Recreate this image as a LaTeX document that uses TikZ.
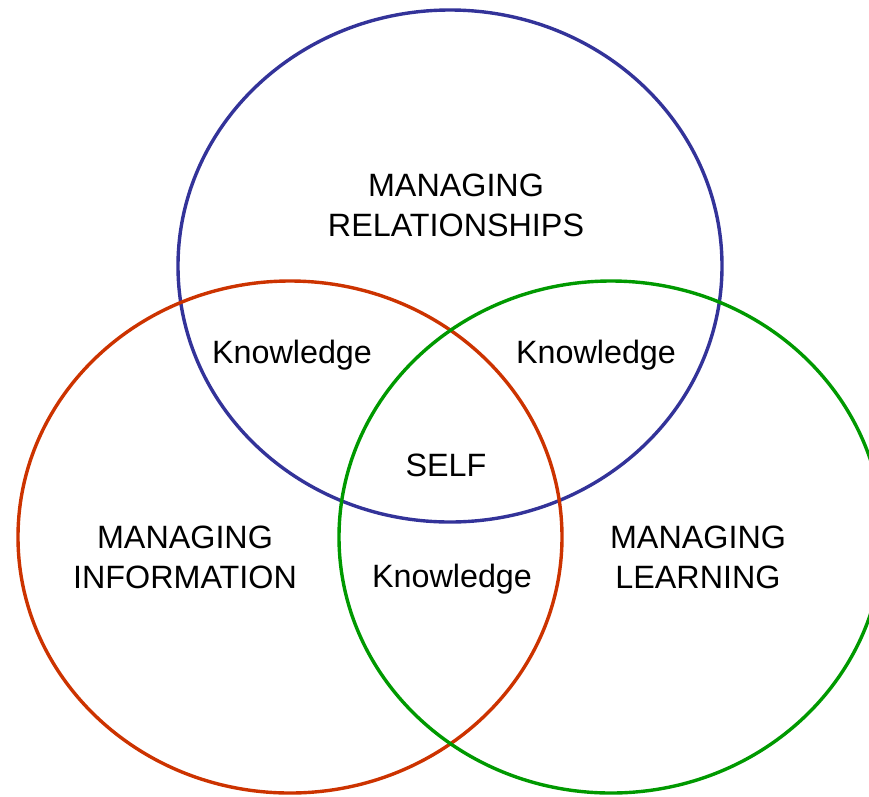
\documentclass[tikz,border=0pt]{standalone}
\usepackage{fontspec}
\setmainfont{Liberation Sans}
\usetikzlibrary{positioning}
\usetikzlibrary{shapes.geometric}
\definecolor{relblue}{RGB}{51,51,153}
\definecolor{infred}{RGB}{204,51,0}
\definecolor{learngreen}{RGB}{0,153,0}
\tikzset{
set/.style={
  ellipse,
  inner sep=0pt,
  minimum width=544pt,
  minimum height=512pt,
  line width=3.4pt
  },
lbl/.style={
  align=center,
  inner sep=0pt,
  font=\fontsize{32.3}{40}\selectfont
  }
}

\begin{document}
\begin{tikzpicture}[x=1pt,y=-1pt]
            \useasboundingbox (0,0) rectangle (869,796);
            \node[set,draw=relblue] (rel) at (450,266) {};
            \node[set,draw=infred] (inf) at (290,537) {};
            \node[set,draw=learngreen] (learn) at (611,537) {};
            \node[lbl] (reltext) at (456,205) {MANAGING\\RELATIONSHIPS};
            \node[lbl] (inftext) at (185,557) {MANAGING\\INFORMATION};
            \node[lbl] (learntext) at (698,557) {MANAGING\\LEARNING};
            \node[lbl] (kri) at (292,355) {Knowledge};
            \node[lbl] (krl) at (596,355) {Knowledge};
            \node[lbl] (kil) at (452,579) {Knowledge};
            \node[lbl] (self) at (446,465) {SELF};
        \end{tikzpicture}
\end{document}
